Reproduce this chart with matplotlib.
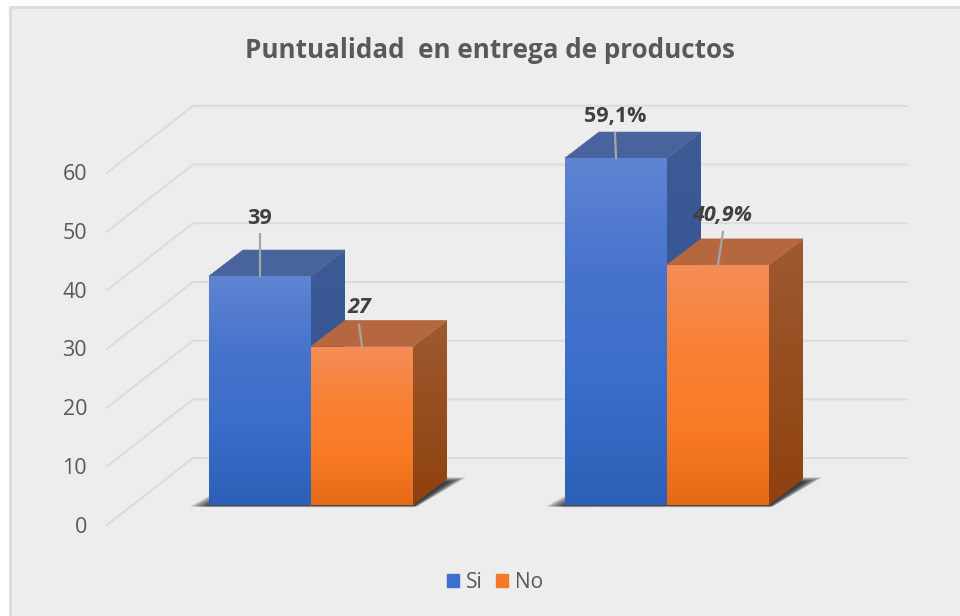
import matplotlib
matplotlib.use('Agg')
import matplotlib.pyplot as plt
import numpy as np
from matplotlib.colors import LinearSegmentedColormap
from matplotlib.patches import Patch, Polygon, Rectangle

plt.rcParams['font.family'] = ['Open Sans', 'DejaVu Sans']

# data
title = 'Puntualidad  en entrega de productos'
series = ['Si', 'No']
si_values = [39, 59.1]
no_values = [27, 40.9]
si_labels = ['39', '59,1%']
no_labels = ['27', '40,9%']
y_ticks = [0, 10, 20, 30, 40, 50, 60]

# figure px -> data, x unit = distance between the two groups
W, H = 960, 616
PX_X = 356.0
PX_Y = 5.87
X0 = 311.0
Y0 = 505.0


def xd(px):
    return (px - X0) / PX_X


def yd(py):
    return (Y0 - py) / PX_Y


bar_w = 102 / PX_X
dep_x = 34 / PX_X
dep_y = 26 / PX_Y
back_y = 8.0
front_y = -3.4

fig = plt.figure(figsize=(W / 100, H / 100), dpi=100, facecolor='white')
ax = fig.add_axes([0, 0, 1, 1])
ax.set_xlim(xd(0), xd(W))
ax.set_ylim(yd(H), yd(0))
ax.axis('off')

# el fondo sigue hasta el borde derecho e inferior
ax.add_patch(Rectangle((xd(10), yd(630)), 970 / PX_X, 623 / PX_Y, fc='#ededed',
                       ec='#dbdbdb', lw=2, zorder=0))

# rejilla: pared del fondo y pared lateral
for v in y_ticks:
    ax.plot([xd(107), xd(193), xd(907)], [v + front_y, v + back_y, v + back_y],
            color='#dcdcdc', lw=1.5, zorder=1, solid_joinstyle='miter')
    ax.text(xd(87), v + front_y - 0.35, str(v), ha='right', va='center',
            fontsize=15.5, color='#595959')

ax.text(xd(490), yd(50), title, ha='center', va='center', fontsize=18.7,
        fontweight='bold', color='#595959')


def gradient(colors, clip, extent, z):
    cmap = LinearSegmentedColormap.from_list('g', colors)
    im = ax.imshow(np.linspace(0, 1, 256).reshape(-1, 1), cmap=cmap, aspect='auto',
                   extent=extent, origin='upper', zorder=z)
    clip.set_transform(ax.transData)
    im.set_clip_path(clip)


def shadow(x_left, x_right):
    n = 16
    for i in range(n):
        t = i / (n - 1)
        pts = [(x_left - 0.055 * (1 - t), -0.25),
               (x_right + 0.012 * (1 - t), -0.25),
               (x_right + dep_x + 0.055 - 0.05 * t, dep_y + 0.3 - 0.8 * t),
               (x_left + dep_x, dep_y + 0.3 - 0.8 * t)]
        ax.add_patch(Polygon(pts, fc='black', ec='none', alpha=0.075, zorder=2))


def bar3d(x, v, front, side, top, z):
    # cara lateral
    side_poly = Polygon([(x + bar_w, 0), (x + bar_w + dep_x, dep_y),
                         (x + bar_w + dep_x, v + dep_y), (x + bar_w, v)], fc='none', ec='none')
    gradient(side, side_poly, [x + bar_w, x + bar_w + dep_x, 0, v + dep_y], z)
    # cara superior
    ax.add_patch(Polygon([(x, v), (x + bar_w, v), (x + bar_w + dep_x, v + dep_y), (x + dep_x, v + dep_y)],
                         fc=top, ec=top, lw=0.5, zorder=z))
    # cara frontal
    ax.add_patch(Polygon([(x, 0), (x + bar_w, 0), (x + bar_w, v), (x, v)], fc=front[1], ec='none', zorder=z))
    rect = Rectangle((x, 0), bar_w, v, fc='none', ec='none')
    gradient(front, rect, [x, x + bar_w, 0, v], z + 0.1)


blue_front = ['#5f84d2', '#4673cd', '#3a6dca', '#2c5fb6']
blue_side = ['#3d5c96', '#2f4f8e']
orange_front = ['#f58d57', '#f88136', '#f97b26', '#e66a16']
orange_side = ['#9e5a31', '#8f410e']

for i in range(2):
    shadow(i - bar_w, i + bar_w)
    ax.plot([i - bar_w, i + bar_w], [-0.2, -0.2], color='#9a9a9a', lw=1, alpha=0.6, zorder=2.5)
    bar3d(i - bar_w, si_values[i], blue_front, blue_side, '#49639c', 3)
    bar3d(i, no_values[i], orange_front, orange_side, '#b5683f', 4)
ax.set_xlim(xd(0), xd(W))
ax.set_ylim(yd(H), yd(0))

# etiquetas con línea guía: (dx punta, dy inicio, dx texto, dy texto) en px
guides_si = [(0, 42, -1, 58), (-1, 25, -1, 42)]
guides_no = [(-3, 22, -3, 39), (5, 33, 4, 49)]
for i in range(2):
    for v, x_c, lab, g, style, z in [
            (si_values[i], i - bar_w / 2, si_labels[i], guides_si[i], 'normal', 5),
            (no_values[i], i + bar_w / 2, no_labels[i], guides_no[i], 'italic', 6)]:
        ax.plot([x_c, x_c + g[0] / PX_X], [v, v + g[1] / PX_Y], color='#a6a6a6', lw=1.6, zorder=z)
        ax.text(x_c + g[2] / PX_X, v + g[3] / PX_Y, lab, ha='center', va='center', fontsize=15.5,
                fontweight='bold', fontstyle=style, color='#404040', zorder=z + 1)

handles = [Patch(fc='#3d70cc', ec='#3d70cc'), Patch(fc='#f47a28', ec='#f47a28')]
ax.legend(handles, series, loc='center', bbox_to_anchor=(495 / W, 1 - 582.5 / H), ncol=2, frameon=False,
          fontsize=15, handlelength=0.62, handleheight=0.62, handletextpad=0.33, columnspacing=0.6,
          labelcolor='#595959', borderpad=0)

fig.savefig('out.png', dpi=100)
